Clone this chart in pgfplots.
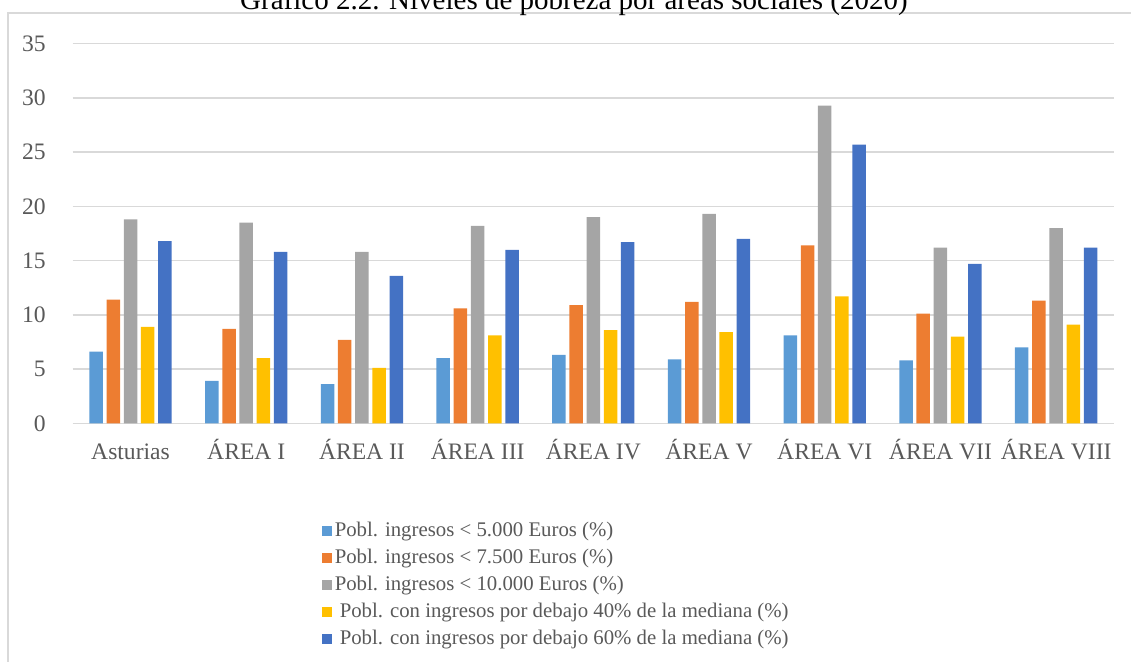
\documentclass[border=0pt]{standalone}
\usepackage{pgfplots}
\pgfplotsset{compat=1.18}
\usepackage{fontspec}
\setmainfont{Liberation Serif}

\definecolor{cLB}{HTML}{5B9BD5}
\definecolor{cOR}{HTML}{ED7D31}
\definecolor{cGR}{HTML}{A5A5A5}
\definecolor{cYE}{HTML}{FFC000}
\definecolor{cBL}{HTML}{4472C4}
\definecolor{gridc}{HTML}{D9D9D9}
\definecolor{txt}{HTML}{595959}

\pgfplotsset{sq legend/.style={legend image code/.code={\fill[##1] (0pt,-2.5pt) rectangle (5pt,2.5pt);}}}

\begin{document}
\begin{tikzpicture}
\useasboundingbox (0pt,0pt) rectangle (565.5pt,331pt);
\clip (0pt,0pt) rectangle (565.5pt,331pt);
% frame of the chart area
\draw[gridc, line width=0.75pt] (4pt,-5pt) -- (4pt,324.6pt) -- (570pt,324.6pt);
% title (cut off at the top)
\node[anchor=base, font=\fontsize{14.5}{17}\selectfont] at (287pt,326.4pt) {Gráfico 2.2. Niveles de pobreza por áreas sociales (2020)};
\begin{axis}[
  at={(36.35pt,119.35pt)}, anchor=south west,
  width=520.65pt, height=189.8pt, scale only axis,
  ybar=1.85pt, bar width=6.75pt,
  xmin=-0.5, xmax=8.5, ymin=0, ymax=35,
  xtick=data,
  xticklabels={Asturias, ÁREA I, ÁREA II, ÁREA III, ÁREA IV, ÁREA V, ÁREA VI, ÁREA VII, ÁREA VIII},
  ytick={0,5,...,35},
  ymajorgrids, grid style={gridc, line width=0.75pt},
  axis line style={draw=none},
  major tick length=0pt,
  tick label style={font=\fontsize{11.8}{14}\selectfont, text=txt},
  /pgf/number format/assume math mode=true,
  yticklabel style={xshift=-10pt},
  xticklabel style={anchor=base, yshift=-18.3pt},
  legend style={at={(0.2394,-0.249)}, anchor=north west, draw=none, fill=none,
    inner sep=0pt, font=\fontsize{10.4}{13}\selectfont, text=txt,
    row sep=0.5pt, nodes={inner sep=1.2pt, text height=7.8pt, text depth=2.8pt}},
  legend cell align=left,
]
\addplot[fill=cLB, draw=none, sq legend] coordinates
 {(0,6.6) (1,3.9) (2,3.6) (3,6.0) (4,6.3) (5,5.9) (6,8.1) (7,5.8) (8,7.0)};
\addplot[fill=cOR, draw=none, sq legend] coordinates
 {(0,11.4) (1,8.7) (2,7.7) (3,10.6) (4,10.9) (5,11.2) (6,16.4) (7,10.1) (8,11.3)};
\addplot[fill=cGR, draw=none, sq legend] coordinates
 {(0,18.8) (1,18.5) (2,15.8) (3,18.2) (4,19.0) (5,19.3) (6,29.3) (7,16.2) (8,18.0)};
\addplot[fill=cYE, draw=none, sq legend] coordinates
 {(0,8.9) (1,6.0) (2,5.1) (3,8.1) (4,8.6) (5,8.4) (6,11.7) (7,8.0) (8,9.1)};
\addplot[fill=cBL, draw=none, sq legend] coordinates
 {(0,16.8) (1,15.8) (2,13.6) (3,16.0) (4,16.7) (5,17.0) (6,25.7) (7,14.7) (8,16.2)};
\legend{Pobl. ingresos < 5.000 Euros (\%),
        Pobl. ingresos < 7.500 Euros (\%),
        Pobl. ingresos < 10.000 Euros (\%),
        \hspace{2.5pt}Pobl. con ingresos por debajo 40\% de la mediana (\%),
        \hspace{2.5pt}Pobl. con ingresos por debajo 60\% de la mediana (\%)}
\end{axis}
\end{tikzpicture}
\end{document}
